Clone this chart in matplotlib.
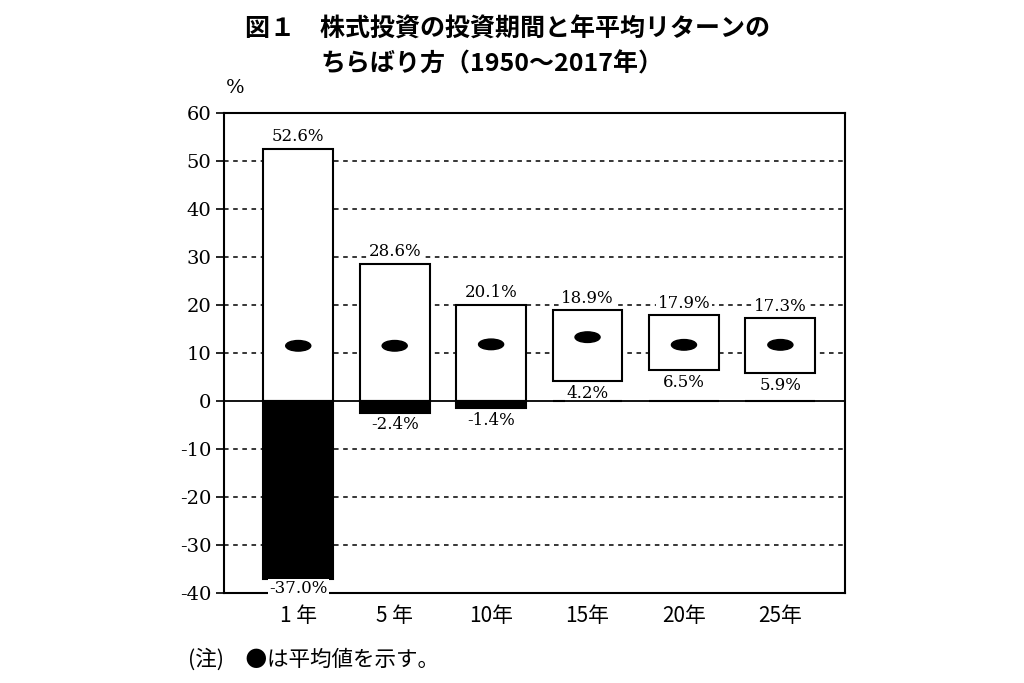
import matplotlib
matplotlib.use("Agg")
import matplotlib.pyplot as plt
from matplotlib.patches import Ellipse

plt.rcParams['font.family'] = ['Noto Sans CJK JP', 'DejaVu Sans']

# data
periods = ['1 年', '5 年', '10年', '15年', '20年', '25年']
max_ret = [52.6, 28.6, 20.1, 18.9, 17.9, 17.3]
min_ret = [-37.0, -2.4, -1.4, 4.2, 6.5, 5.9]
mean_ret = [11.5, 11.5, 11.8, 13.3, 11.7, 11.7]
yticks = [60, 50, 40, 30, 20, 10, 0, -10, -20, -30, -40]

num_font = 'DejaVu Serif'

fig = plt.figure(figsize=(10.24, 6.83), dpi=100)
ax = fig.add_axes([224/1024, 1 - 593/683, 621/1024, 480/683])

x = list(range(len(periods)))
w = 0.725

# dashed grid behind the boxes, solid zero line on top
for v in yticks:
    if v in (60, -40):
        continue
    if v == 0:
        ax.axhline(0, color='black', lw=1.3, zorder=5)
    else:
        ax.axhline(v, color='black', lw=1.1, ls=(0, (3, 3)), zorder=0)

pos_bottom = [max(lo, 0) for lo in min_ret]
pos_height = [hi - b for hi, b in zip(max_ret, pos_bottom)]
neg_height = [min(lo, 0) for lo in min_ret]

ax.bar(x, pos_height, bottom=pos_bottom, width=w, color='white',
       edgecolor='black', lw=1.5, zorder=2)
ax.bar(x, neg_height, bottom=0, width=w, color='black',
       edgecolor='black', lw=1.5, zorder=2)

for xi, m in zip(x, mean_ret):
    ax.add_patch(Ellipse((xi, m), 0.26, 2.2, color='black', zorder=3))

label_box = dict(facecolor='white', edgecolor='none', pad=1.0)
for xi, hi, lo in zip(x, max_ret, min_ret):
    ax.text(xi, hi + 0.7, f'{hi:.1f}%', ha='center', va='bottom',
            fontsize=12, family=num_font, zorder=4, bbox=label_box)
    off = 0.3 if lo < -30 else 0.8
    ax.text(xi, lo - off, f'{lo:.1f}%', ha='center', va='top',
            fontsize=12, family=num_font, zorder=4, bbox=label_box)

ax.set_xlim(-0.77, 5.67)
ax.set_ylim(-40, 60)
ax.set_yticks(yticks)
ax.set_yticklabels([str(v) for v in yticks], family=num_font, fontsize=14)
ax.tick_params(axis='y', direction='out', length=6, width=1.2, pad=3)
ax.set_xticks(x)
ax.set_xticklabels(periods, fontsize=15)
ax.tick_params(axis='x', length=0, pad=9)
for s in ax.spines.values():
    s.set_linewidth(1.5)

fig.text(226/1024, 1 - 88/683, '%', fontsize=14, family=num_font,
         ha='left', va='center')
fig.text(245/1024, 1 - 30/683, '図１　株式投資の投資期間と年平均リターンの',
         fontsize=18, fontweight='bold', ha='left', va='center')
fig.text(320/1024, 1 - 64/683, 'ちらばり方（1950～2017年）',
         fontsize=18, fontweight='bold', ha='left', va='center')
fig.text(188/1024, 1 - 660/683, '(注)　●は平均値を示す。',
         fontsize=15.5, ha='left', va='center')

fig.savefig('out.png', dpi=100)
